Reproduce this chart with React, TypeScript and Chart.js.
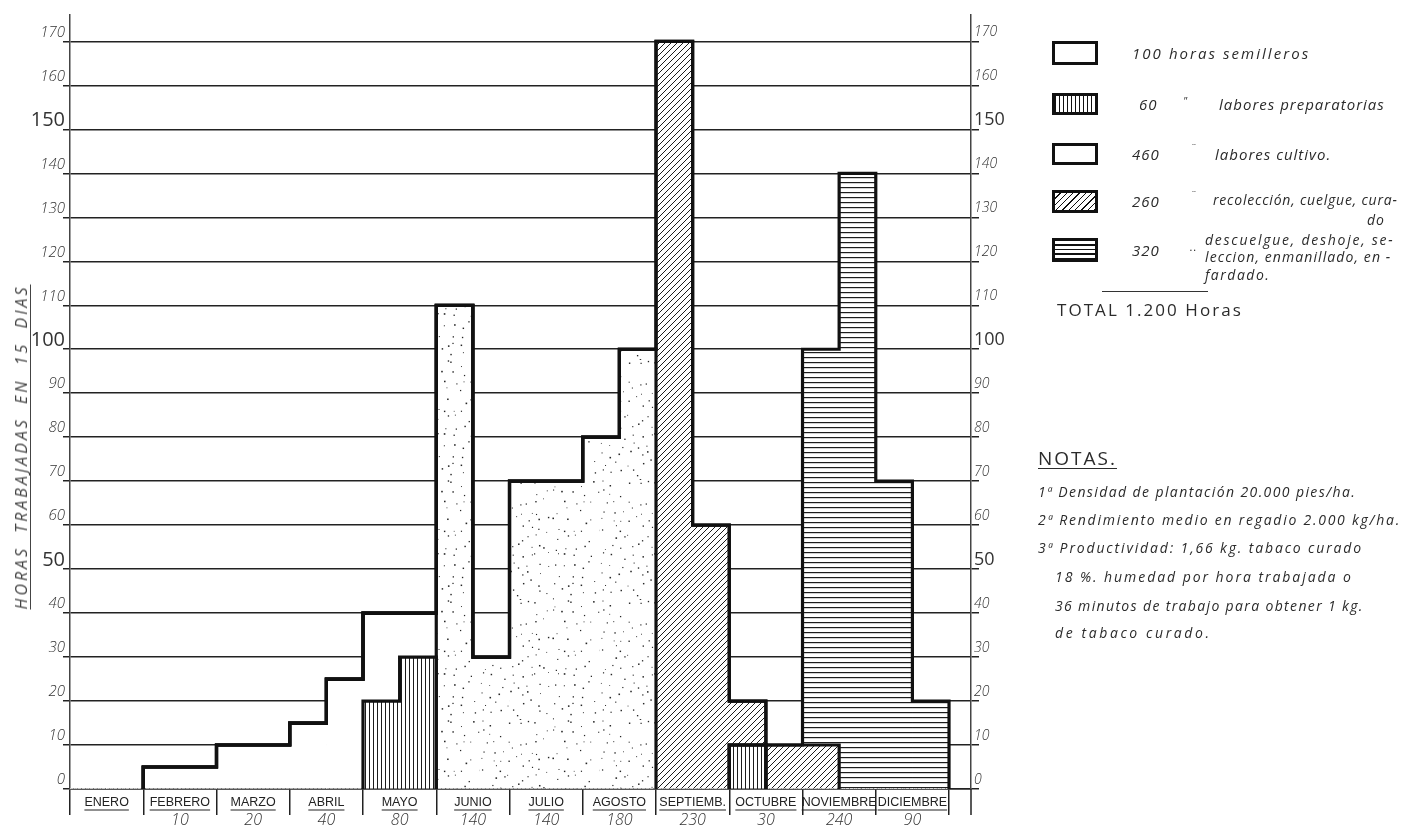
import React, { useEffect, useRef } from 'react';
import { Chart, registerables } from 'chart.js';

Chart.register(...registerables);

// ---------- DATA ----------
const MONTHS = ['ENERO', 'FEBRERO', 'MARZO', 'ABRIL', 'MAYO', 'JUNIO', 'JULIO', 'AGOSTO', 'SEPTIEMB.', 'OCTUBRE', 'NOVIEMBRE', 'DICIEMBRE'];
const MONTH_TOTALS = ['', '10', '20', '40', '80', '140', '140', '180', '230', '30', '240', '90'];
// 24 fortnights (two per month), hours worked in 15 days
const PREPARATORIAS = [0, 0, 0, 0, 0, 0, 0, 0, 20, 30, 0, 0, 0, 0, 0, 0, 0, 0, 10, 0, 0, 0, 0, 0];
const SEMILLEROS = [0, 0, 5, 5, 10, 10, 15, 25, 20, 10, 0, 0, 0, 0, 0, 0, 0, 0, 0, 0, 0, 0, 0, 0];
const CULTIVO = [0, 0, 0, 0, 0, 0, 0, 0, 0, 0, 110, 30, 70, 70, 80, 100, 0, 0, 0, 0, 0, 0, 0, 0];
const RECOLECCION = [0, 0, 0, 0, 0, 0, 0, 0, 0, 0, 0, 0, 0, 0, 0, 0, 170, 60, 10, 10, 10, 0, 0, 0];
const DESCUELGUE = [0, 0, 0, 0, 0, 0, 0, 0, 0, 0, 0, 0, 0, 0, 0, 0, 0, 0, 0, 0, 90, 140, 70, 20];
const SERIES_NAMES = ['labores preparatorias', 'semilleros', 'labores cultivo', 'recolección, cuelgue, curado', 'descuelgue, deshoje, selección, enmanillado, enfardado'];
const Y_MIN = 0;
const Y_MAX = 176;
const Y_STEP = 10;
const FORTNIGHTS = 24;

const FONT = '"Open Sans", "Liberation Sans", sans-serif';

function tile(w: number, h: number, draw: (g: CanvasRenderingContext2D) => void) {
  const c = document.createElement('canvas');
  c.width = w;
  c.height = h;
  const g = c.getContext('2d')!;
  g.fillStyle = '#ffffff';
  g.fillRect(0, 0, w, h);
  draw(g);
  return g.createPattern(c, 'repeat')!;
}

function makePatterns() {
  const vertical = tile(4, 4, (g) => {
    g.fillStyle = '#1c1c1c';
    g.fillRect(1, 0, 1, 4);
  });
  const horizontal = tile(4, 5, (g) => {
    g.fillStyle = '#1c1c1c';
    g.fillRect(0, 2, 4, 1.2);
  });
  const diagonal = tile(6, 6, (g) => {
    g.strokeStyle = '#1c1c1c';
    g.lineWidth = 1;
    g.beginPath();
    g.moveTo(0, 6); g.lineTo(6, 0);
    g.moveTo(-1, 1); g.lineTo(1, -1);
    g.moveTo(5, 7); g.lineTo(7, 5);
    g.stroke();
  });
  // texture: jittered stipple dots (decoration only, not data)
  const stipple = tile(120, 120, (g) => {
    let s = 11;
    const r = () => { s = (Math.imul(s, 1664525) + 1013904223) >>> 0; return s / 4294967296; };
    g.fillStyle = '#262626';
    const cell = 9;
    for (let cy = 0; cy < 120; cy += cell) {
      for (let cx = 0; cx < 120; cx += cell) {
        if (r() < 0.2) continue;
        const d = 0.8 + r() * 0.8;
        g.fillRect(cx + r() * (cell - 2), cy + r() * (cell - 2), d, d);
      }
    }
  });
  return { vertical, horizontal, diagonal, stipple };
}

const decorPlugin = {
  id: 'decor',
  afterDraw(chart: any) {
    const { ctx, chartArea } = chart;
    const xs = chart.scales.x;
    ctx.save();
    ctx.strokeStyle = '#222';
    ctx.lineWidth = 1.5;
    ctx.beginPath();
    ctx.moveTo(chartArea.right, chartArea.bottom);
    ctx.lineTo(chartArea.right, chartArea.bottom + 26);
    ctx.stroke();
    ctx.font = `12.5px "Liberation Sans", sans-serif`;
    ctx.lineWidth = 1.2;
    MONTHS.forEach((m, k) => {
      const x = xs.getPixelForValue(2 * k + 1);
      const w = ctx.measureText(m).width;
      const y = chartArea.bottom + 21;
      ctx.beginPath();
      ctx.moveTo(x - w / 2, y);
      ctx.lineTo(x + w / 2, y);
      ctx.stroke();
    });
    ctx.restore();
  },
};

const T = ({ x, y, s = 15, it = true, ls = 1, u = false, children }: any) => {
  const lh = Math.round(s * 1.3);
  return (
    <div
      style={{
        position: 'absolute', left: x, top: y - lh / 2, fontFamily: FONT,
        fontStyle: it ? 'italic' : 'normal', fontSize: s, lineHeight: `${lh}px`,
        letterSpacing: ls, color: '#2b2b2b', whiteSpace: 'nowrap',
        textDecoration: u ? 'underline' : 'none', textUnderlineOffset: 3,
      }}
    >
      {children}
    </div>
  );
};

const Swatch = ({ top, h, bg }: any) => (
  <div style={{ position: 'absolute', left: 1052, top, width: 46, height: h, boxSizing: 'border-box', border: '3px solid #111', background: bg }} />
);

export default function App() {
  const ref = useRef<HTMLCanvasElement>(null);

  useEffect(() => {
    const canvas = ref.current!;
    const p = makePatterns();
    const SERIES = [PREPARATORIAS, SEMILLEROS, CULTIVO, RECOLECCION, DESCUELGUE];
    const fills = [p.vertical, '#ffffff', p.stipple, p.diagonal, p.horizontal];

    const barSets: any[] = SERIES.map((vals, k) => ({
      type: 'bar',
      label: SERIES_NAMES[k],
      data: vals.map((v, i) => ({ x: i + 0.5, y: v })),
      backgroundColor: fills[k],
      borderWidth: 0,
      stack: 'main',
      order: 10,
      barPercentage: 1,
      categoryPercentage: 1,
      xAxisID: 'x',
      yAxisID: 'y',
    }));

    const lineSets: any[] = [];
    let cum = new Array(FORTNIGHTS).fill(0);
    SERIES.forEach((vals, k) => {
      cum = cum.map((c, i) => c + vals[i]);
      const pts: any[] = [];
      for (let i = 0; i <= FORTNIGHTS; i++) {
        const a = i > 0 ? cum[i - 1] : 0;
        const b = i < FORTNIGHTS ? cum[i] : 0;
        pts.push({ x: i, y: a }, { x: i, y: b });
      }
      lineSets.push({
        type: 'line',
        label: 'outline ' + SERIES_NAMES[k],
        data: pts,
        borderColor: '#111',
        borderWidth: 3.2,
        pointRadius: 0,
        pointHitRadius: 0,
        fill: false,
        tension: 0,
        order: 0,
        xAxisID: 'x',
        yAxisID: 'yL',
        borderJoinStyle: 'miter',
        borderCapStyle: 'butt',
        segment: {
          borderColor: (c: any) => (c.p0.parsed.y === 0 && c.p1.parsed.y === 0 ? 'rgba(0,0,0,0)' : '#111'),
        },
      });
    });

    const fortnightTicks = (s: any) => {
      s.ticks = Array.from({ length: FORTNIGHTS + 1 }, (_, i) => ({ value: i }));
    };
    const yFont = (big: number, small: number) => (c: any) => {
      const v = c.tick ? c.tick.value : 0;
      return v > 0 && v % 50 === 0
        ? { family: FONT, size: big, style: 'normal', weight: 'normal' }
        : { family: FONT, size: small, style: 'italic', weight: '300' };
    };

    const chart = new Chart(canvas, {
      type: 'bar',
      data: { datasets: [...barSets, ...lineSets] },
      options: {
        animation: false,
        responsive: false,
        events: [],
        layout: { padding: { top: 15, right: 370, left: 0, bottom: 0 } },
        plugins: { legend: { display: false }, tooltip: { enabled: false } },
        scales: {
          x: {
            type: 'linear', position: 'bottom', axis: 'x', min: 0, max: 24.6, offset: false, stacked: true, weight: 1,
            afterBuildTicks: fortnightTicks,
            afterFit: (s: any) => { s.height = 20; },
            ticks: {
              autoSkip: false, maxRotation: 0, minRotation: 0, padding: -20, color: '#222',
              font: { family: '"Liberation Sans", sans-serif', size: 12.5 },
              callback: (v: any) => (Number(v) % 2 === 1 ? MONTHS[(Number(v) - 1) / 2] : ''),
            },
            grid: {
              drawOnChartArea: false, drawTicks: true, tickLength: 26, offset: false,
              color: (c: any) => (c.tick && c.tick.value % 2 === 0 ? '#222' : 'rgba(0,0,0,0)'),
              lineWidth: (c: any) => (c.tick && c.tick.value % 2 === 0 ? 1.5 : 0),
            },
            border: { display: true, color: '#222', width: 1.5 },
          },
          x2: {
            type: 'linear', position: 'bottom', axis: 'x', min: 0, max: 24.6, offset: false, weight: 2,
            afterBuildTicks: fortnightTicks,
            afterFit: (s: any) => { s.height = 23; },
            ticks: {
              autoSkip: false, maxRotation: 0, minRotation: 0, padding: 2, color: '#333',
              font: { family: FONT, size: 16, style: 'italic', weight: '300' },
              callback: (v: any) => (Number(v) % 2 === 1 ? MONTH_TOTALS[(Number(v) - 1) / 2] : ''),
            },
            grid: { display: false, drawTicks: false, offset: false },
            border: { display: false },
          },
          y: {
            type: 'linear', position: 'left', axis: 'y', stacked: true, min: Y_MIN, max: Y_MAX,
            afterFit: (s: any) => { s.width = 70; },
            ticks: { stepSize: Y_STEP, includeBounds: false, padding: -2, labelOffset: -9, color: '#333', font: yFont(20, 15) as any },
            grid: { color: '#222', lineWidth: 1.5, tickLength: 7, drawTicks: true },
            border: { display: true, color: '#444', width: 1.5 },
          },
          yR: {
            type: 'linear', position: 'right', axis: 'y', min: Y_MIN, max: Y_MAX,
            afterFit: (s: any) => { s.width = 60; },
            ticks: { stepSize: Y_STEP, includeBounds: false, padding: -5, labelOffset: -9, color: '#333', font: yFont(18, 14) as any },
            grid: { drawOnChartArea: false, color: '#222', lineWidth: 1.5, tickLength: 8, drawTicks: true },
            border: { display: true, color: '#444', width: 1.5 },
          },
          yL: { type: 'linear', position: 'left', axis: 'y', display: false, min: Y_MIN, max: Y_MAX },
        },
      } as any,
      plugins: [decorPlugin],
    });
    return () => chart.destroy();
  }, []);

  const vert = 'repeating-linear-gradient(90deg, #111 0 1.5px, #fff 1.5px 4px)';
  const diag = 'repeating-linear-gradient(-45deg, #111 0 1px, #fff 1px 4.5px)';
  const horiz = 'repeating-linear-gradient(0deg, #111 0 1.3px, #fff 1.3px 4.5px)';

  return (
    <div style={{ position: 'absolute', left: 0, top: 0, width: 1401, height: 832, background: '#fff', overflow: 'hidden' }}>
      <canvas ref={ref} width={1401} height={832} style={{ position: 'absolute', left: 0, top: 0 }} />
      <div
        style={{
          position: 'absolute', left: 21, top: 447, transform: 'translate(-50%, -50%) rotate(-90deg)',
          whiteSpace: 'nowrap', fontFamily: FONT, fontStyle: 'italic', fontSize: 16, letterSpacing: 3,
          wordSpacing: 6, color: '#444', textDecoration: 'underline', textUnderlineOffset: 3,
        }}
      >
        HORAS TRABAJADAS EN 15 DIAS
      </div>

      <Swatch top={41} h={24} bg="#fff" />
      <Swatch top={93} h={22} bg={vert} />
      <Swatch top={143} h={22} bg="#fff" />
      <Swatch top={190} h={23} bg={diag} />
      <Swatch top={238} h={24} bg={horiz} />

      <T x={1132} y={53} ls={2.05}>100 horas semilleros</T>
      <T x={1139} y={104}>60</T>
      <T x={1183} y={101} s={11}>"</T>
      <T x={1219} y={104} ls={1}>labores preparatorias</T>
      <T x={1132} y={154}>460</T>
      <T x={1190} y={148} s={11}>¨</T>
      <T x={1215} y={154} ls={1}>labores cultivo.</T>
      <T x={1132} y={201}>260</T>
      <T x={1190} y={195} s={11}>¨</T>
      <T x={1213} y={200} s={14} ls={0.8}>recolección, cuelgue, cura-</T>
      <T x={1367} y={220} s={14} ls={0.8}>do</T>
      <T x={1132} y={250}>320</T>
      <T x={1190} y={247} s={11}>..</T>
      <T x={1205} y={240} s={14} ls={1.75}>descuelgue, deshoje, se-</T>
      <T x={1205} y={257} s={14} ls={1.1}>leccion, enmanillado, en -</T>
      <T x={1205} y={275} s={14} ls={1.5}>fardado.</T>
      <div style={{ position: 'absolute', left: 1102, top: 291, width: 106, height: 1, background: '#333' }} />
      <T x={1057} y={310} s={17} it={false} ls={2.05}>TOTAL 1.200  Horas</T>

      <T x={1038} y={458} s={19} it={false} ls={2} u>NOTAS.</T>
      <T x={1038} y={492} s={14} ls={1.4}>1ª Densidad de plantación 20.000 pies/ha.</T>
      <T x={1038} y={520} s={14} ls={1.75}>2ª Rendimiento medio en regadio 2.000 kg/ha.</T>
      <T x={1038} y={548} s={14} ls={1.85}>3ª Productividad: 1,66 kg. tabaco curado</T>
      <T x={1055} y={577} s={14} ls={1.95}>18 %. humedad por hora trabajada o</T>
      <T x={1055} y={606} s={14} ls={1.35}>36 minutos de trabajo para obtener 1 kg.</T>
      <T x={1055} y={633} s={14} ls={2.6}>de tabaco curado.</T>
    </div>
  );
}
